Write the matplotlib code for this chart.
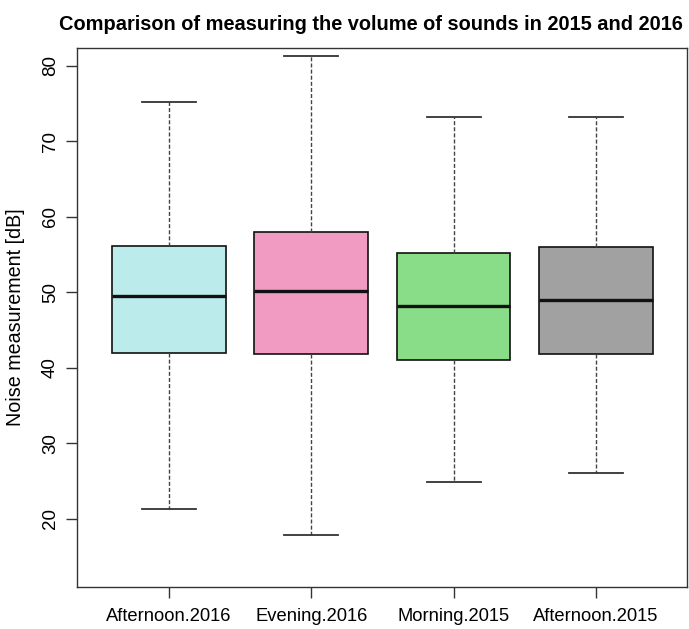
import matplotlib
matplotlib.use("Agg")
import matplotlib.pyplot as plt
from matplotlib import font_manager

categories = ["Afternoon.2016", "Evening.2016", "Morning.2015", "Afternoon.2015"]
whisker_low = [21.3, 17.9, 24.9, 26.0]
q1 = [41.9, 41.8, 41.05, 41.8]
median = [49.45, 50.1, 48.2, 48.95]
q3 = [56.15, 58.0, 55.2, 55.95]
whisker_high = [75.2, 81.35, 73.2, 73.2]
colors = ["#BBEBEA", "#F19BC2", "#89DD88", "#A0A1A0"]

names = {f.name for f in font_manager.fontManager.ttflist}
fam = "Liberation Sans Narrow" if "Liberation Sans Narrow" in names else "Liberation Sans"
plt.rcParams["font.family"] = ["Liberation Sans", "DejaVu Sans"]

W, H = 689, 629
fig = plt.figure(figsize=(W / 100, H / 100), dpi=100)
left, right, top, bottom = 76.5, 686.9, 47.6, 586.7
ax = fig.add_axes([left / W, 1 - bottom / H, (right - left) / W, (bottom - top) / H])

stats = []
for i, c in enumerate(categories):
    stats.append(dict(label=c, whislo=whisker_low[i], q1=q1[i], med=median[i],
                      q3=q3[i], whishi=whisker_high[i], fliers=[]))

pos = list(range(1, len(categories) + 1))
bp = ax.bxp(stats, positions=pos, widths=0.8, patch_artist=True, showfliers=False,
            capwidths=0.38,
            boxprops=dict(edgecolor="#111111", linewidth=1.2),
            medianprops=dict(color="#111111", linewidth=2.4),
            whiskerprops=dict(color="#444444", linewidth=1.0, linestyle=(0, (2.9, 1.5))),
            capprops=dict(color="#333333", linewidth=1.3))
for patch, col in zip(bp["boxes"], colors):
    patch.set_facecolor(col)

ax.set_xlim(0.35, 4.64)
ax.set_ylim(11.0, 82.4)
ax.set_yticks([20, 30, 40, 50, 60, 70, 80])
ax.set_xticks(pos)
ax.set_xticklabels(categories, fontsize=13.2)
for lbl in ax.get_yticklabels():
    lbl.set_rotation(90)
    lbl.set_va("center")
    lbl.set_fontsize(13.5)
ax.tick_params(axis="both", length=7.7, width=1.0, color="#333333")
ax.tick_params(axis="x", pad=7.5)
ax.tick_params(axis="y", pad=5.0)
for s in ax.spines.values():
    s.set_color("#333333")
    s.set_linewidth(1.0)

ax.set_ylabel("Noise measurement [dB]", fontsize=14.2)
ax.yaxis.set_label_coords(-(left - 25.5) / (right - left), 0.5)

fig.text(370.5 / W, 1 - 30.3 / H, "Comparison of measuring the volume of sounds in 2015 and 2016",
         ha="center", va="baseline", fontsize=14.4, fontweight="bold", family=[fam, "DejaVu Sans"])

fig.savefig("out.png", dpi=100)
